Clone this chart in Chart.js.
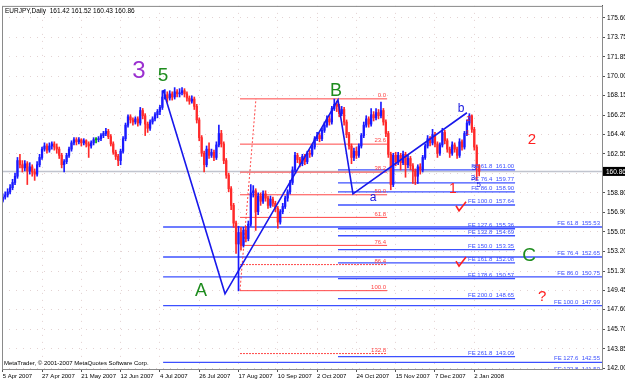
<!DOCTYPE html>
<html><head><meta charset="utf-8">
<script src="https://cdn.jsdelivr.net/npm/chart.js@4.4.1/dist/chart.umd.min.js"></script>
<style>html,body{margin:0;padding:0;background:#fff;}canvas{display:block;}</style>
</head><body>
<canvas id="c" width="625" height="380"></canvas>
<script>
// ---------------- DATA ----------------
const symbolTitle = 'EURJPY,Daily  161.42 161.52 160.43 160.86';
const copyright = 'MetaTrader, \u00A9 2001-2007 MetaQuotes Software Corp.';
const dateLabels = ['5 Apr 2007','27 Apr 2007','21 May 2007','12 Jun 2007','4 Jul 2007','26 Jul 2007','17 Aug 2007','10 Sep 2007','2 Oct 2007','24 Oct 2007','15 Nov 2007','7 Dec 2007','2 Jan 2008'];
const dateTickBars = [0,16,32,48,64,80,96,112,128,144,160,176,192];
const priceTicks = ['142.00','143.85','145.70','147.60','149.45','151.30','153.20','155.05','156.90','158.80','160.70','162.55','164.40','166.25','168.15','170.00','171.85','173.75','175.60'];
const firstOpen = 158.0;
const closes = [
158.4,158.6,158.9,159.3,159.8,160.4,161.9,161.5,161.2,161.6,
160.9,161.3,160.8,160.6,161.5,162.2,163.0,163.3,162.9,163.3,
163.5,163.2,163.0,162.4,161.5,161.8,162.4,163.0,163.6,163.9,
163.7,163.9,163.6,163.8,163.5,163.3,163.6,163.9,163.9,164.0,
164.3,164.5,164.7,164.2,163.5,162.7,162.3,161.9,162.8,164.0,
165.3,166.1,165.8,165.6,165.9,165.5,166.7,166.2,165.4,165.0,
165.6,165.9,166.3,166.6,167.0,168.0,168.2,167.9,168.3,168.0,
168.5,168.3,168.4,168.6,168.3,167.9,167.6,167.8,167.1,165.8,
164.1,162.6,161.5,163.0,162.4,162.7,162.2,163.4,164.5,163.5,
161.9,160.5,159.2,157.6,155.9,153.9,155.0,153.8,155.2,154.4,
155.8,158.8,159.0,157.0,158.5,158.0,158.7,158.3,157.6,158.2,
157.8,157.3,156.0,157.0,157.5,158.3,158.9,159.8,161.0,162.4,
162.0,161.6,162.3,161.8,162.6,162.5,163.2,164.0,164.3,164.0,
164.8,165.3,165.9,165.6,166.9,167.3,167.1,166.4,166.8,165.6,
164.4,163.3,162.2,162.8,162.4,163.3,164.3,165.3,165.9,165.4,
166.3,166.0,166.5,166.2,166.7,165.6,164.5,162.5,159.6,162.4,
161.8,162.4,161.7,162.5,161.5,162.1,161.4,160.9,160.4,161.3,
161.0,162.2,163.3,164.0,163.6,164.4,163.5,162.6,163.4,164.6,
163.8,163.0,162.6,163.4,163.0,162.4,163.7,163.2,164.5,165.5,
166.2,164.9,163.2,161.42,160.86];
const highs = [
158.7,158.9,159.2,159.6,160.1,160.7,162.2,162.5,161.9,161.9,
161.8,161.7,161.5,161.1,161.8,162.5,163.2,163.6,163.5,163.6,
163.7,163.7,163.5,163.2,162.6,162.0,162.6,163.2,163.8,164.1,
164.1,164.1,164.0,164.0,163.9,163.7,163.8,164.1,164.1,164.2,
164.5,164.7,165.0,164.9,164.4,163.7,162.9,162.5,163.0,164.2,
165.5,166.3,166.3,166.0,166.1,166.1,167.0,166.9,166.4,165.6,
165.8,166.1,166.5,166.8,167.2,168.6,168.7,168.5,168.6,168.5,
168.9,168.7,168.8,168.9,168.8,168.5,168.1,168.1,168.0,167.3,
166.0,164.3,162.8,163.3,163.6,163.0,162.9,163.7,165.3,164.8,
163.7,162.1,160.7,159.4,157.8,156.1,155.6,155.5,155.5,155.6,
156.1,159.6,159.5,159.2,158.8,158.8,159.0,159.0,158.5,158.5,
158.4,158.0,157.5,157.2,157.8,158.5,159.1,160.0,161.3,162.7,
162.6,162.2,162.5,162.5,162.8,162.9,163.4,164.2,164.6,164.5,
165.0,165.6,166.2,166.2,167.1,167.8,167.6,167.3,167.1,167.0,
165.8,164.6,163.5,163.1,163.2,163.5,164.5,165.6,166.2,166.1,
166.9,166.6,166.9,166.8,167.5,166.9,165.8,164.7,162.7,162.6,
162.7,162.7,162.6,162.8,162.7,162.4,162.3,161.6,161.1,161.5,
161.6,162.4,163.5,164.3,164.2,164.9,164.6,163.7,163.6,165.0,
164.8,164.0,163.2,163.7,163.6,163.2,164.0,163.9,164.7,165.8,
166.4,166.3,165.1,163.4,161.52];
const lows = [
157.9,158.2,158.4,158.7,159.1,159.6,160.2,161.2,160.8,160.9,
159.6,160.6,160.4,160.0,160.4,161.3,162.0,162.8,162.6,162.7,
163.0,162.9,162.6,162.1,161.2,160.8,161.6,162.2,162.8,163.4,
163.4,163.5,163.3,163.4,163.2,162.2,163.1,163.4,163.6,163.7,
163.8,164.1,164.3,164.0,163.3,162.5,162.0,161.4,161.5,162.6,
163.8,165.1,165.5,165.3,165.4,165.2,165.3,165.9,164.3,164.6,
164.8,165.4,165.7,166.0,166.3,166.8,167.8,167.5,167.7,167.7,
167.8,168.0,168.0,168.2,168.0,167.6,167.3,167.4,166.8,165.5,
163.8,162.3,160.8,161.3,162.1,162.2,161.9,162.0,163.2,163.2,
161.6,160.2,158.9,157.2,155.5,153.0,149.4,153.3,153.6,154.1,
154.2,155.6,158.4,155.2,156.7,157.6,157.8,158.0,157.3,157.4,
157.5,157.0,155.4,155.8,156.8,157.3,158.0,158.7,159.6,160.8,
161.7,161.3,161.4,161.5,161.6,162.2,162.3,163.0,163.8,163.7,
163.8,164.6,165.1,165.3,165.4,166.7,166.6,166.1,166.2,165.3,
164.1,163.0,161.6,161.9,162.1,162.2,163.1,164.1,165.1,165.1,
165.2,165.7,165.8,165.9,166.0,165.3,164.2,162.2,159.1,159.4,
161.4,161.5,161.0,161.5,160.3,161.2,161.0,159.7,159.6,159.7,
160.6,160.8,162.0,163.1,163.3,163.4,163.2,162.2,162.4,163.2,
163.5,162.7,162.2,162.4,162.7,162.1,162.2,162.9,163.0,164.3,
165.3,164.6,162.9,160.0,160.43];
const lastPrice = 160.86;

// Fibonacci retracement anchors and levels
const fibLow = 149.42, fibHigh = 167.82;
const fibLevels = [0, 23.6, 38.2, 50, 61.8, 76.4, 86.4, 100, 132.8];
const fibDotted = [86.4, 132.8];
// Fibonacci expansions (label, price)
const feShortNames = ['FE 61.8','FE 76.4','FE 86.0','FE 100.0','FE 127.6','FE 132.8','FE 150.0','FE 161.8','FE 178.6','FE 200.0','FE 261.8'];
const feShortPrices = [161.00,159.77,158.90,157.64,155.36,154.69,153.35,152.08,150.57,148.65,143.09];
const feLongNames = ['FE 61.8','FE 76.4','FE 86.0','FE 100.0','FE 127.6','FE 132.8'];
const feLongPrices = [155.53,152.65,150.75,147.99,142.55,141.53];
// Wave zigzag (bar index, price)
const waveBars = [65.3, 90.5, 136.5, 142.6, 189.0];
const wavePrices = [168.67, 149.12, 167.72, 158.71, 166.49];

// ---------------- LAYOUT / STYLE ----------------
const X_MIN = -0.3, X_MAX = 244.0;
const Y_MIN = 141.905, Y_MAX = 176.739;
const fibSpan = [96.6, 156.5];
const fibTrend = [96.6, 103.1];
const feShortSpan = [136.5, 208.6];
const feLongSpan = [65.3, 244.0];
const FONT = "'Liberation Sans', Arial, sans-serif";
const UP = '#1a1aff', DN = '#ff2a2a', EQ = '#00a000';
const FIBC = 'rgb(255,70,70)', FEC = 'rgb(60,80,255)';

const opens = [firstOpen].concat(closes.slice(0, -1));
const colorOf = i => closes[i] > opens[i] ? UP : (closes[i] < opens[i] ? DN : EQ);
const barColors = closes.map((c, i) => colorOf(i));

const datasets = [];
datasets.push({type:'bar', order:1, grouped:false, barThickness:1.6, minBarLength:1, borderWidth:0,
  data: closes.map((c, i) => ({x:i, y:[opens[i], c]})), backgroundColor: barColors});
datasets.push({type:'bar', order:1, grouped:false, barThickness:1, borderWidth:0,
  data: highs.map((h, i) => ({x:i, y:[lows[i], h]})), backgroundColor: barColors});

function hline(x0, x1, p, color, width, dash, order) {
  datasets.push({type:'line', order, data:[{x:x0, y:p}, {x:x1, y:p}], borderColor:color,
    borderWidth:width, borderDash:dash || [], pointRadius:0, fill:false, tension:0});
}
// current price line
hline(X_MIN, X_MAX, lastPrice, 'rgb(192,196,206)', 1.5, [], 4);
// fib lines
const fibPrice = l => fibHigh - (fibHigh - fibLow) * l / 100;
fibLevels.forEach(l => hline(fibSpan[0], fibSpan[1], fibPrice(l), FIBC, 1, fibDotted.includes(l) ? [2,1] : [], 2));
datasets.push({type:'line', order:2, data:[{x:fibTrend[0], y:fibLow}, {x:fibTrend[1], y:fibHigh}],
  borderColor:FIBC, borderWidth:1, borderDash:[2,2], pointRadius:0, fill:false});
// FE lines
feShortPrices.forEach(p => hline(feShortSpan[0], feShortSpan[1], p, FEC, 1.3, [], 2));
feLongPrices.forEach(p => hline(feLongSpan[0], feLongSpan[1], p, FEC, 1.3, [], 2));
// zigzag
datasets.push({type:'line', order:0, data: waveBars.map((b, i) => ({x:b, y:wavePrices[i]})),
  borderColor:'rgb(24,24,235)', borderWidth:1.6, pointRadius:0, fill:false, tension:0});

// text annotations: [text, bar, price, color, size]
const marks = [
  ['3', 55.5, 170.47, '#9b30d0', 24],
  ['5', 65.3, 170.00, '#1e8c1e', 19],
  ['B', 135.7, 168.58, '#1e8c1e', 18],
  ['A', 80.7, 149.40, '#1e8c1e', 18],
  ['C', 214.3, 152.73, '#1e8c1e', 19],
  ['a', 150.8, 158.33, '#1818e0', 12],
  ['b', 186.6, 166.87, '#1818e0', 12],
  ['1', 183.3, 159.18, '#ff2020', 14],
  ['2', 215.5, 163.93, '#ff2020', 15],
  ['?', 219.6, 148.83, '#ff2020', 15],
  ['1', 189.3, 164.59, '#ff2020', 8],
  ['2', 189.6, 165.95, '#ff2020', 8],
  ['3', 191.9, 161.17, '#1818e0', 8],
  ['3', 191.5, 160.22, '#1818e0', 8],
  ['5', 193.8, 159.56, '#1818e0', 8]
];
const checks = [[186.6, 157.47], [186.6, 152.16]];

const overlay = {
  id: 'overlay',
  beforeDraw(chart) {
    const c = chart.ctx; c.save(); c.fillStyle = '#fff'; c.fillRect(0, 0, chart.width, chart.height); c.restore();
  },
  afterDatasetsDraw(chart) {
    const {ctx, chartArea: a, scales: {x, y}} = chart;
    ctx.save();
    ctx.beginPath(); ctx.rect(a.left, a.top, a.right - a.left, a.bottom - a.top); ctx.clip();
    ctx.font = '6px ' + FONT; ctx.textAlign = 'right'; ctx.textBaseline = 'bottom'; ctx.fillStyle = FIBC;
    fibLevels.forEach(l => ctx.fillText(l.toFixed(1), x.getPixelForValue(fibSpan[1]) - 1, y.getPixelForValue(fibPrice(l)) - 0.5));
    ctx.fillStyle = FEC;
    feShortPrices.forEach((p, i) => ctx.fillText(feShortNames[i] + '  ' + p.toFixed(2), x.getPixelForValue(feShortSpan[1]) - 1, y.getPixelForValue(p) - 0.5));
    feLongPrices.forEach((p, i) => ctx.fillText(feLongNames[i] + '  ' + p.toFixed(2), x.getPixelForValue(feLongSpan[1]) - 2, y.getPixelForValue(p) - 0.5));
    ctx.textAlign = 'center'; ctx.textBaseline = 'middle';
    marks.forEach(m => { ctx.fillStyle = m[3]; ctx.font = m[4] + 'px ' + FONT; ctx.fillText(m[0], x.getPixelForValue(m[1]), y.getPixelForValue(m[2])); });
    ctx.strokeStyle = '#ff2020'; ctx.lineWidth = 1.6;
    checks.forEach(cm => {
      const px = x.getPixelForValue(cm[0]), py = y.getPixelForValue(cm[1]);
      ctx.beginPath(); ctx.moveTo(px - 5, py - 1); ctx.lineTo(px - 2, py + 4); ctx.lineTo(px + 5, py - 5); ctx.stroke();
    });
    ctx.restore();
    ctx.save(); ctx.strokeStyle = '#8a8a8a'; ctx.lineWidth = 1;
    ctx.strokeRect(a.left + 0.5, a.top + 0.5, a.right - a.left, a.bottom - a.top);
    ctx.restore();
  },
  afterDraw(chart) {
    const {ctx, chartArea: a, scales: {y}} = chart;
    ctx.save();
    ctx.font = '6.5px ' + FONT; ctx.fillStyle = '#000'; ctx.textAlign = 'left'; ctx.textBaseline = 'middle';
    ctx.fillText(symbolTitle, a.left + 3, a.top + 5);
    ctx.font = '6px ' + FONT;
    ctx.fillText(copyright, a.left + 2, a.bottom - 6);
    const py = y.getPixelForValue(lastPrice);
    ctx.fillStyle = '#000'; ctx.fillRect(a.right + 1, py - 4.5, 24, 9);
    ctx.fillStyle = '#fff'; ctx.font = '6.5px ' + FONT;
    ctx.fillText(lastPrice.toFixed(2), a.right + 4, py + 0.5);
    ctx.restore();
  }
};

Chart.defaults.font.family = FONT;
new Chart(document.getElementById('c'), {
  type: 'bar',
  data: { datasets },
  options: {
    responsive: false, animation: false, devicePixelRatio: 1,
    layout: { padding: { left: 2, top: 2, right: 0, bottom: 0 } },
    plugins: { legend: { display: false }, tooltip: { enabled: false } },
    scales: {
      x: {
        type: 'linear', position: 'bottom', min: X_MIN, max: X_MAX, offset: false, bounds: 'data',
        afterBuildTicks: s => { s.ticks = dateTickBars.map(v => ({value: v})); },
        afterFit: s => { s.height = 11; },
        ticks: { autoSkip: false, maxRotation: 0, minRotation: 0, align: 'start', padding: 1,
          font: { size: 6, family: FONT }, color: '#000', callback: (v, i) => dateLabels[i] },
        grid: { color: 'rgba(200,165,165,0.5)', tickLength: 3, tickColor: '#555', offset: false },
        border: { display: true, color: '#555', dash: [1, 6] }
      },
      y: {
        type: 'linear', position: 'right', min: Y_MIN, max: Y_MAX, bounds: 'data',
        afterBuildTicks: s => { s.ticks = priceTicks.map(v => ({value: parseFloat(v)})); },
        afterFit: s => { s.width = 23; },
        ticks: { autoSkip: false, padding: 2, font: { size: 6.5, family: FONT }, color: '#000',
          callback: (v, i) => priceTicks[i] },
        grid: { color: 'rgba(200,165,165,0.5)', tickLength: 3, tickColor: '#555' },
        border: { display: true, color: '#555', dash: [1, 6] }
      }
    }
  },
  plugins: [overlay]
});
</script>
</body></html>
